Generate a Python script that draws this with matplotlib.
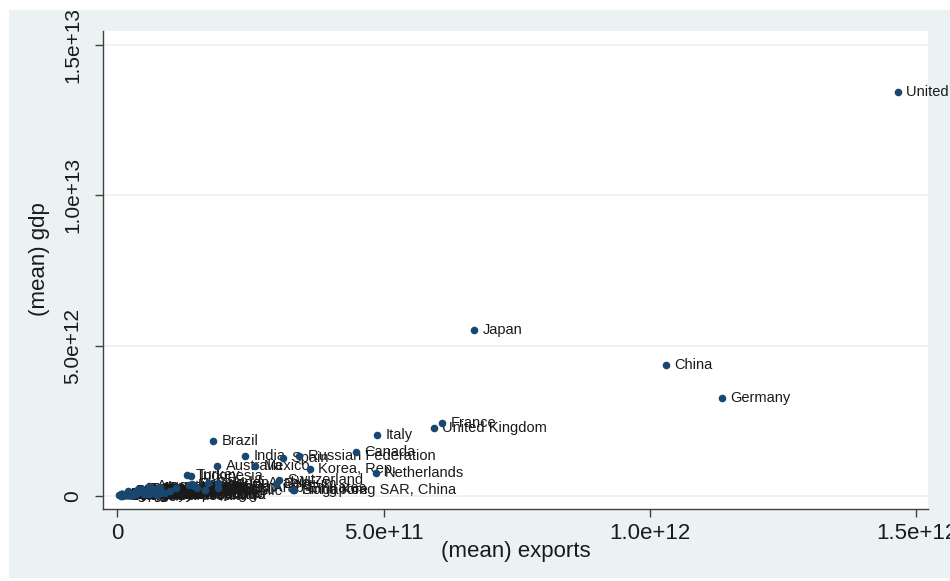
import matplotlib.pyplot as plt
from matplotlib.patches import Rectangle
from matplotlib.transforms import Bbox
import numpy as np

plt.rcParams['font.family'] = ['Liberation Sans', 'DejaVu Sans']

# Country means (exports, gdp) in current US$ billions
countries = [
    'United States', 'Japan', 'China', 'Germany', 'France', 'United Kingdom',
    'Italy', 'Canada', 'Russian Federation', 'Spain', 'India', 'Brazil',
    'Korea, Rep.', 'Netherlands', 'Australia', 'Mexico', 'Switzerland',
    'Hong Kong SAR, China', 'Singapore', 'Turkey', 'Indonesia', 'Belgium',
    'Saudi Arabia', 'Sweden', 'Poland', 'Norway', 'Austria', 'Thailand',
    'Malaysia', 'Ireland', 'Denmark', 'Argentina', 'South Africa',
    'Iran, Islamic Rep.', 'Venezuela, RB', 'United Arab Emirates', 'Finland',
    'Israel', 'Czech Republic', 'Portugal', 'Greece', 'Chile', 'Philippines',
    'Nigeria', 'Colombia', 'Egypt, Arab Rep.', 'Pakistan', 'Vietnam',
    'Hungary', 'New Zealand', 'Kuwait', 'Qatar', 'Algeria', 'Kazakhstan',
    'Peru', 'Romania', 'Ukraine', 'Bangladesh', 'Slovak Republic', 'Morocco',
    'Luxembourg', 'Iraq', 'Angola', 'Slovenia', 'Croatia', 'Bulgaria',
    'Lithuania', 'Ecuador', 'Tunisia', 'Oman', 'Belarus', 'Azerbaijan',
    'Sri Lanka', 'Dominican Republic', 'Guatemala', 'Kenya', 'Ethiopia',
    'Uruguay', 'Costa Rica', 'Panama', 'Latvia', 'Estonia', 'Serbia',
    'Jordan', 'Bahrain', 'Cyprus', 'Iceland', 'Ghana', "Cote d'Ivoire",
    'Cameroon', 'Bolivia', 'Paraguay', 'Trinidad and Tobago', 'Uzbekistan',
    'Myanmar', 'Tanzania', 'Uganda', 'Zambia', 'Lebanon', 'Yemen, Rep.',
    'Sudan', 'Libya', 'Brunei Darussalam', 'Macao SAR, China',
]
exports = [
    1465, 670, 1030, 1135, 610, 594,
    488, 448, 342, 312, 240, 180,
    362, 486, 188, 259, 304,
    332, 330, 131, 139, 298,
    190, 170, 140, 135, 145, 150,
    165, 165, 110, 60, 80,
    80, 60, 190, 75,
    65, 100, 60, 45, 60, 45,
    70, 40, 35, 20, 90,
    85, 35, 70, 80, 55, 55,
    35, 50, 55, 20, 60, 30,
    75, 50, 50, 25, 20, 25,
    25, 20, 20, 35, 30, 25,
    10, 10, 10, 9, 5,
    10, 15, 20, 15, 15, 15,
    10, 20, 10, 7, 12, 12,
    7, 9, 10, 12, 12,
    10, 6, 4, 8, 18, 8,
    8, 35, 10, 30,
]
gdp = [
    13420, 5515, 4350, 3256, 2430, 2260,
    2030, 1460, 1330, 1260, 1330, 1830,
    900, 760, 1000, 1000, 530,
    200, 185, 700, 680, 400,
    430, 420, 390, 360, 330, 270,
    200, 190, 270, 330, 280,
    300, 220, 260, 210,
    190, 160, 200, 240, 160, 160,
    230, 230, 170, 160, 100,
    120, 130, 110, 110, 140, 120,
    130, 140, 110, 110, 75, 80,
    45, 120, 80, 45, 55, 45,
    40, 70, 40, 55, 50, 50,
    50, 55, 45, 40, 35,
    40, 40, 35, 25, 20, 40,
    25, 25, 22, 15, 30, 28,
    25, 20, 22, 22, 40,
    50, 30, 20, 18, 35, 25,
    50, 60, 13, 35,
]

xticks = [0, 5e11, 1e12, 1.5e12]
xticklabels = ['0', '5.0e+11', '1.0e+12', '1.5e+12']
yticks = [0, 5e12, 1e13, 1.5e13]
yticklabels = ['0', '5.0e+12', '1.0e+13', '1.5e+13']

x = np.array(exports) * 1e9
y = np.array(gdp) * 1e9

W, H = 950, 581
fig = plt.figure(figsize=(W / 100, H / 100), dpi=100)
fig.patch.set_facecolor('white')

# graph region (light bluish gray) behind the axes
bg = Rectangle((9 / W, 3 / H), 1 - 9 / W, (H - 13) / H, transform=fig.transFigure,
               facecolor='#EAF2F3', edgecolor='none', zorder=-10)
fig.add_artist(bg)

ax = fig.add_axes([103 / W, (H - 509) / H, 825 / W, 478 / H])
ax.set_facecolor('white')
ax.set_xlim(-2.63e10, 1.5216e12)
ax.set_ylim(-4.32e11, 1.5449e13)

for s in ['top', 'right']:
    ax.spines[s].set_visible(False)
for s in ['left', 'bottom']:
    ax.spines[s].set_color('#404040')
    ax.spines[s].set_linewidth(1.0)

ax.set_xticks(xticks)
ax.set_xticklabels(xticklabels)
ax.set_yticks(yticks)
ax.set_yticklabels(yticklabels, rotation=90, va='center')
ax.tick_params(axis='x', length=6, width=1, color='#404040', labelsize=16, pad=4,
               labelcolor='#1a1a1a')
ax.tick_params(axis='y', length=6, width=1, color='#404040', labelsize=15, pad=9,
               labelcolor='#1a1a1a')
ax.yaxis.grid(True, color='#EAF2F3', linewidth=1.3)
ax.set_axisbelow(True)

ax.set_xlabel('(mean) exports', fontsize=16, color='#1a1a1a', va='center')
ax.xaxis.set_label_coords(0.5, (509 - 552) / 478)
ax.set_ylabel('(mean) gdp', fontsize=16, color='#1a1a1a', va='center')
ax.yaxis.set_label_coords((40 - 103) / 825, (509 - 259) / 478)

# markers sit on top of the crowded labels near the origin
ax.scatter(x, y, s=30, color='#1A476F', zorder=5, linewidths=0)
for name, xi, yi in zip(countries, x, y):
    ax.annotate(name, (xi, yi), xytext=(6, 0), textcoords='offset points',
                fontsize=10.5, color='#1a1a1a', va='center', ha='left',
                annotation_clip=False, zorder=4)

# keep tick labels inside the graph region
clip = Bbox.from_extents(9, 3, W, H - 10)
for lab in ax.get_yticklabels() + ax.get_xticklabels():
    lab.set_clip_on(True)
    lab.set_clip_box(clip)

fig.savefig('out.png', dpi=100)
